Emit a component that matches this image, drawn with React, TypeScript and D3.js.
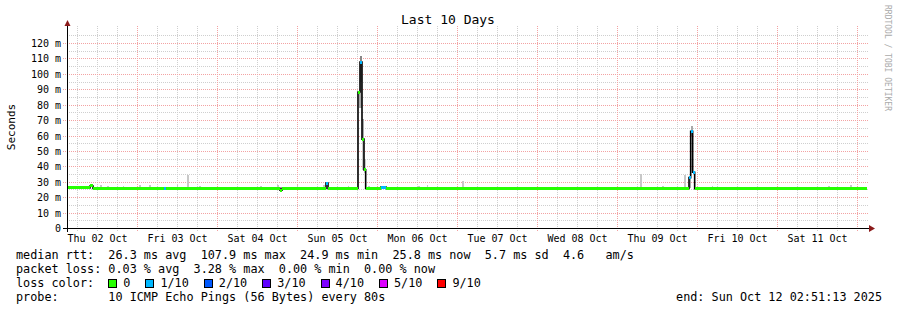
import React from 'react';
import * as d3 from 'd3';

const W = 897;
const H = 310;

// time axis in hours from start (Thu Oct 02 02:51:13 2025) to end (Sun Oct 12 02:51:13 2025)
const totalHours = 240;
const firstMidnightHour = 21.146; // Fri 03 Oct 00:00
const dayLabels = ["Thu 02 Oct", "Fri 03 Oct", "Sat 04 Oct", "Sun 05 Oct", "Mon 06 Oct", "Tue 07 Oct", "Wed 08 Oct", "Thu 09 Oct", "Fri 10 Oct", "Sat 11 Oct"];

const yTicks = [0, 10, 20, 30, 40, 50, 60, 70, 80, 90, 100, 110, 120];
const yTickLabels = ["0", "10 m", "20 m", "30 m", "40 m", "50 m", "60 m", "70 m", "80 m", "90 m", "100 m", "110 m", "120 m"];
const yMinorTicks = [5, 15, 25, 35, 45, 55, 65, 75, 85, 95, 105, 115, 125];

// median rtt segments: [startHour, endHour, ms, lossIndex]
const medianSegments: [number, number, number, number][] = [
  [0, 6.9, 26.3, 0],
  [6.9, 7.8, 27.6, 0],
  [7.8, 29.1, 25.9, 0],
  [29.1, 29.7, 25.9, 1],
  [29.7, 63.9, 26.0, 0],
  [63.9, 64.5, 24.9, 0],
  [64.5, 77.7, 26.0, 0],
  [77.7, 78.3, 29.5, 1],
  [78.3, 87.3, 26.0, 0],
  [87.3, 87.9, 88.5, 0],
  [87.9, 88.5, 107.9, 1],
  [88.5, 89.1, 58.0, 0],
  [89.1, 89.6, 38.0, 0],
  [89.6, 94.2, 26.0, 0],
  [94.2, 95.7, 26.9, 1],
  [95.7, 186.6, 26.0, 0],
  [186.6, 187.1, 33.0, 1],
  [187.1, 187.7, 63.0, 1],
  [187.7, 188.3, 36.5, 1],
  [188.3, 240, 25.8, 0],
];

// smoke (ping spread): [startHour, endHour, lowMs, highMs, density]
const smoke: [number, number, number, number, number][] = [
  [9.9, 10.5, 26, 28.2, 0],
  [12.1, 12.6, 26, 27.8, 0],
  [16.7, 17.2, 26, 27.5, 0],
  [21.6, 22.1, 26, 28.0, 0],
  [24.6, 25.2, 26, 28.5, 0],
  [32.9, 33.4, 26, 28.2, 0],
  [36.0, 36.6, 26, 34.4, 0],
  [39.7, 40.2, 26, 27.8, 0],
  [57.9, 58.4, 26, 27.5, 0],
  [63.0, 63.5, 26, 28.5, 0],
  [68.9, 69.4, 26, 28.0, 0],
  [76.8, 77.3, 26, 28.5, 0],
  [84.2, 84.7, 26, 27.5, 0],
  [87.6, 88.1, 78, 89, 1],
  [87.9, 88.6, 95, 111.7, 2],
  [87.9, 88.6, 78, 95, 1],
  [88.6, 89.2, 57, 71, 1],
  [88.6, 89.2, 38, 57, 0],
  [89.2, 89.6, 36, 45, 0],
  [90.3, 90.8, 26, 27.5, 0],
  [105.3, 105.8, 26, 27.5, 0],
  [107.9, 108.4, 26, 28.3, 0],
  [110.9, 111.4, 26, 27.5, 0],
  [118.5, 119.0, 26, 31.0, 0],
  [171.9, 172.5, 26, 35.5, 0],
  [178.5, 179.0, 26, 27.5, 0],
  [185.2, 185.7, 26, 35.0, 0],
  [186.6, 187.1, 26, 33.0, 1],
  [187.1, 187.7, 60, 66.5, 1],
  [193.4, 193.9, 26, 27.5, 0],
  [228.3, 228.8, 26, 27.5, 0],
  [234.9, 235.5, 26, 28.0, 0],
];

const lossColors = ["#26ff00", "#00b8ff", "#0059ff", "#5e00ff", "#7e00ff", "#dd00ff", "#ff0000"];
const lossLabels = ["0", "1/10", "2/10", "3/10", "4/10", "5/10", "9/10"];
const smokeShades = ["#c8c8c8", "#a8a8a8", "#888888"];

const titleText = "Last 10 Days";
const yAxisLabel = "Seconds";
const watermark = "RRDTOOL / TOBI OETIKER";
const statsLine1 = "median rtt:  26.3 ms avg  107.9 ms max  24.9 ms min  25.8 ms now  5.7 ms sd  4.6   am/s";
const statsLine2 = "packet loss: 0.03 % avg  3.28 % max  0.00 % min  0.00 % now";
const lossColorLabel = "loss color:";
const probeLine = "probe:       10 ICMP Echo Pings (56 Bytes) every 80s";
const endLine = "end: Sun Oct 12 02:51:13 2025";

const MONO = "'DejaVu Sans Mono', monospace";

export default function App() {
  const x = d3.scaleLinear().domain([0, totalHours]).range([67, 867]);
  const y = d3.scaleLinear().domain([0, 120]).range([228.5, 43.5]);
  const px = (v: number) => Math.floor(v) + 0.5;

  const midnights: number[] = [];
  const minors: number[] = [];
  for (let h = firstMidnightHour - 18; h <= totalHours; h += 6) {
    if (h < 0) continue;
    const k = Math.round((h - firstMidnightHour) / 6);
    if (k % 4 === 0) midnights.push(h);
    else minors.push(h);
  }

  const stepPoints: [number, number][] = medianSegments.map(s => [s[0], s[2]]);
  const last = medianSegments[medianSegments.length - 1];
  stepPoints.push([last[1], last[2]]);
  const stepLine = d3.line<[number, number]>()
    .x(d => x(d[0]))
    .y(d => y(d[1]))
    .curve(d3.curveStepAfter);

  const charW = 7.1;
  const legendX0 = 16;
  const legendItems: { bx: number; tx: number; label: string; color: string }[] = [];
  let cx = legendX0 + 13 * charW;
  lossLabels.forEach((lab, i) => {
    const tx = cx + 15;
    legendItems.push({ bx: cx, tx, label: lab, color: lossColors[i] });
    cx = tx + lab.length * charW + 15;
  });

  return (
    <svg width={W} height={H} style={{ position: 'absolute', left: 0, top: 0, background: '#fff' }}
      xmlns="http://www.w3.org/2000/svg">
      <rect x={0} y={0} width={W} height={H} fill="#fff" />
      {/* minor grid */}
      <g stroke="#cfcfcf" strokeWidth={1} strokeDasharray="1,1" shapeRendering="crispEdges">
        {yMinorTicks.map(t => (
          <line key={'hm' + t} x1={67} x2={868} y1={px(y(t))} y2={px(y(t))} />
        ))}
        {minors.map(h => (
          <line key={'vm' + h} x1={px(x(h))} x2={px(x(h))} y1={26} y2={231} />
        ))}
      </g>
      {/* major grid */}
      <g stroke="#f3a3a3" strokeWidth={1} strokeDasharray="1,1" shapeRendering="crispEdges">
        {yTicks.filter(t => t > 0).map(t => (
          <line key={'hM' + t} x1={63} x2={868} y1={px(y(t))} y2={px(y(t))} />
        ))}
        {midnights.map(h => (
          <line key={'vM' + h} x1={px(x(h))} x2={px(x(h))} y1={26} y2={232} />
        ))}
      </g>
      {/* smoke */}
      <g shapeRendering="crispEdges">
        {smoke.map((s, i) => (
          <rect key={'s' + i} x={x(s[0])} width={Math.max(1, x(s[1]) - x(s[0]))}
            y={y(s[3])} height={y(s[2]) - y(s[3])} fill={smokeShades[s[4]]} />
        ))}
      </g>
      {/* median step line */}
      <path d={stepLine(stepPoints) || ''} fill="none" stroke="#000" strokeWidth={1.6} />
      {/* loss-coloured median */}
      <g shapeRendering="crispEdges">
        {medianSegments.map((s, i) => (
          <line key={'m' + i} x1={x(s[0])} x2={x(s[1])} y1={y(s[2])} y2={y(s[2])}
            stroke={lossColors[s[3]]} strokeWidth={3} />
        ))}
      </g>
      {/* axes */}
      <g stroke="#000" strokeWidth={1} shapeRendering="crispEdges">
        <line x1={63} x2={870} y1={228.5} y2={228.5} />
        <line x1={67.5} x2={67.5} y1={25} y2={232} />
      </g>
      <path d="M64.5,26 L70.5,26 L67.5,20 Z" fill="#8b1a1a" />
      <path d="M869,225 L869,232 L875,228.5 Z" fill="#8b1a1a" />
      {/* y tick labels */}
      <g fontFamily={MONO} fontSize={10} fill="#000" textAnchor="end">
        {yTicks.map((t, i) => (
          <text key={'yl' + t} x={61} y={y(t) + 3.5} style={{ whiteSpace: 'pre' }}>{yTickLabels[i]}</text>
        ))}
      </g>
      {/* x labels */}
      <g fontFamily={MONO} fontSize={10} fill="#000" textAnchor="middle">
        {dayLabels.map((d, i) => (
          <text key={'xl' + i} x={x(firstMidnightHour - 12 + 24 * i)} y={241.5} style={{ whiteSpace: 'pre' }}>{d}</text>
        ))}
      </g>
      {/* title */}
      <text x={448} y={24} fontFamily={MONO} fontSize={13} textAnchor="middle" fill="#000">{titleText}</text>
      {/* y axis title */}
      <text transform="translate(15,127) rotate(-90)" fontFamily={MONO} fontSize={11} textAnchor="middle" fill="#000">{yAxisLabel}</text>
      {/* watermark */}
      <text transform="translate(885,5) rotate(90)" fontFamily={MONO} fontSize={8} fill="#aaaaaa">{watermark}</text>
      {/* legend */}
      <g fontFamily={MONO} fontSize={11.8} fill="#000" style={{ whiteSpace: 'pre' }}>
        <text x={legendX0} y={258.5} style={{ whiteSpace: 'pre' }}>{statsLine1}</text>
        <text x={legendX0} y={272.5} style={{ whiteSpace: 'pre' }}>{statsLine2}</text>
        <text x={legendX0} y={286.5} style={{ whiteSpace: 'pre' }}>{lossColorLabel}</text>
        {legendItems.map((it, i) => (
          <g key={'lg' + i}>
            <rect x={Math.round(it.bx) + 0.5} y={279.5} width={8} height={8} fill={it.color} stroke="#000" strokeWidth={1} />
            <text x={it.tx} y={286.5}>{it.label}</text>
          </g>
        ))}
        <text x={legendX0} y={300.5} style={{ whiteSpace: 'pre' }}>{probeLine}</text>
        <text x={882} y={300.5} textAnchor="end" style={{ whiteSpace: 'pre' }}>{endLine}</text>
      </g>
    </svg>
  );
}
